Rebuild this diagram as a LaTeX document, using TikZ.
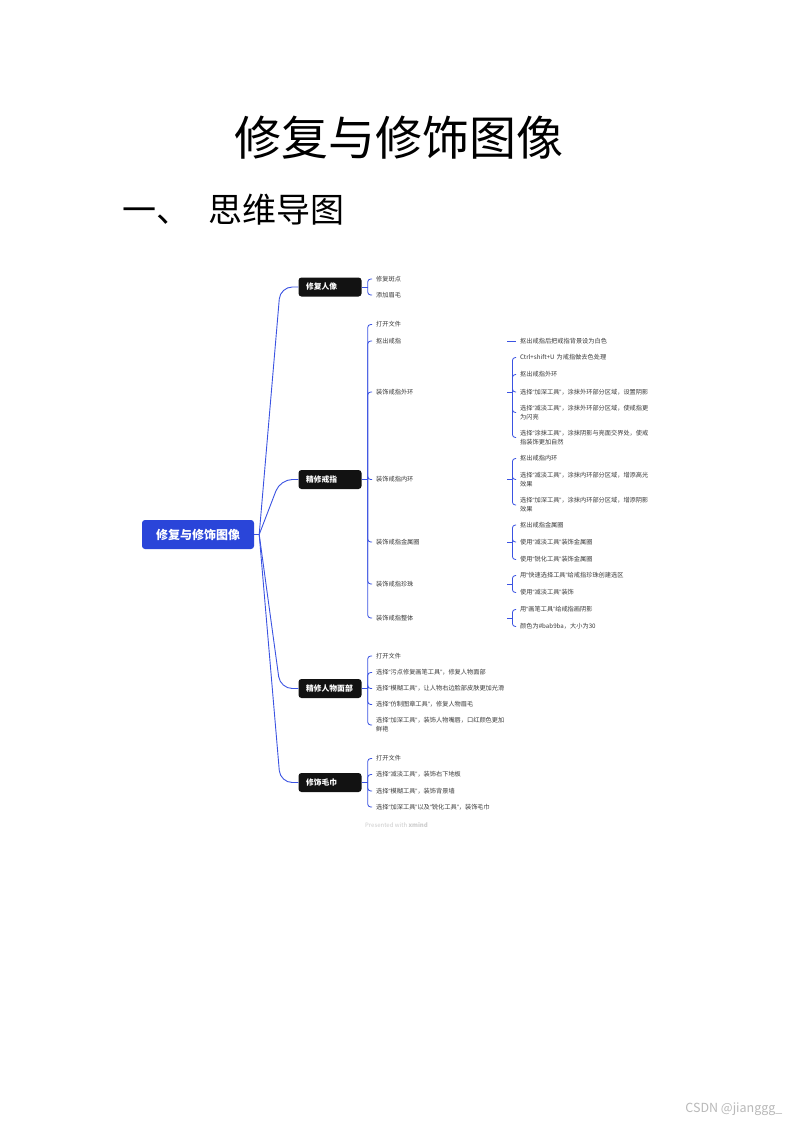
\documentclass[tikz,border=0pt]{standalone}
\usepackage{fontspec}
\setmainfont{Noto Sans CJK SC}
\newfontfamily\quotefont{Liberation Sans}
\newcommand{\ql}{{\quotefont “}}
\newcommand{\qr}{{\quotefont ”}}
\usetikzlibrary{calc}
\definecolor{rootbg}{HTML}{2A45D9}
\definecolor{topicbg}{HTML}{121212}
\definecolor{branch}{HTML}{3B53E2}
\definecolor{leaftext}{HTML}{3A3A3A}

\begin{document}
\begin{tikzpicture}[
  x=1pt, y=-1pt,
  trunk/.style={draw=branch, line width=0.9pt, rounded corners=12pt},
  br/.style={draw=branch, line width=0.8pt, rounded corners=3pt},
  rootbox/.style={rectangle, fill=rootbg, rounded corners=3pt, text=white, font=\fontsize{12}{14}\selectfont\bfseries, minimum width=112pt, minimum height=29pt},
  topic/.style={rectangle, fill=topicbg, rounded corners=3pt, text=white, font=\fontsize{7.8}{9}\selectfont\bfseries, text width=48pt, align=left, inner xsep=7.5pt, minimum height=19pt},
  sub/.style={anchor=west, text=leaftext, font=\fontsize{6.2}{9}\selectfont, text width=127pt, align=left, inner xsep=4pt, inner ysep=1pt},
  leaf/.style={sub, text width=135pt}
]
  \path[use as bounding box, fill=white] (0,0) rectangle (793,1122);

  % Title
  \node[font=\fontsize{47}{50}\selectfont] (title) at (399, 138) {修复与修饰图像};
  \node[font=\fontsize{34}{38}\selectfont, anchor=west] (heading) at (119, 210) {一、\hspace{18pt}思维导图};

  % Root and main topics
  \node[rootbox] (root) at (198, 534.5) {修复与修饰图像};
  \node[topic] (repair) at (330, 287) {修复人像};
  \node[topic] (ring) at (330, 479.5) {精修戒指};
  \node[topic] (face) at (330, 688.5) {精修人物面部};
  \node[topic] (towel) at (330, 782.5) {修饰毛巾};

  % Trunk connectors
  \coordinate (hub) at ($(root.east)+(5,0)$);
  \draw[trunk] (root.east) -- (hub);
  \foreach \t in {repair,ring,face,towel}
    \draw[trunk] (hub) -- ($(\t.west)+(-18,0)$) -- (\t.west);

  % ==================== 修复人像 ====================
  \node[sub] (a1) at (372, 279) {修复斑点};
  \node[sub] (a2) at (372, 295) {添加眉毛};
  \coordinate (bA) at ($(repair.east)+(6,0)$);
  \draw[br] (repair.east) -- (bA);
  \foreach \c in {a1,a2} \draw[br] (bA) |- (\c.west);

  % ==================== 精修戒指 ====================
  \node[sub] (r1) at (372, 324.5) {打开文件};
  \node[sub] (r2) at (372, 341) {抠出戒指};
  \node[sub] (r3) at (372, 392) {装饰戒指外环};
  \node[sub] (r4) at (372, 479.5) {装饰戒指内环};
  \node[sub] (r5) at (372, 542) {装饰戒指金属圈};
  \node[sub] (r6) at (372, 584) {装饰戒指珍珠};
  \node[sub] (r7) at (372, 618) {装饰戒指整体};
  \coordinate (bR) at ($(ring.east)+(6,0)$);
  \draw[br] (ring.east) -- (bR);
  \foreach \c in {r1,r2,r3,r4,r5,r6,r7} \draw[br] (bR) |- (\c.west);

  % 抠出戒指
  \node[leaf] (r2a) at (516, 341) {抠出戒指后把戒指背景设为白色};
  \draw[br] (r2.east) -- (r2a.west);

  % 装饰戒指外环
  \node[leaf] (r3a) at (516, 357.5) {Ctrl+shift+U 为戒指做去色处理};
  \node[leaf] (r3b) at (516, 374.5) {抠出戒指外环};
  \node[leaf] (r3c) at (516, 392) {选择\ql 加深工具\qr，涂抹外环部分区域，设置阴影};
  \node[leaf] (r3d) at (516, 412.5) {选择\ql 减淡工具\qr，涂抹外环部分区域，使戒指更\\为闪亮};
  \node[leaf] (r3e) at (516, 437.5) {选择\ql 涂抹工具\qr，涂抹阴影与亮面交界处，使戒\\指装饰更加自然};
  \coordinate (b3) at ($(r3.east)+(5,0)$);
  \draw[br] (r3.east) -- (b3);
  \foreach \c in {r3a,r3b,r3c,r3d,r3e} \draw[br] (b3) |- (\c.west);

  % 装饰戒指内环
  \node[leaf] (r4a) at (516, 458.5) {抠出戒指内环};
  \node[leaf] (r4b) at (516, 479.5) {选择\ql 减淡工具\qr，涂抹内环部分区域，增添高光\\效果};
  \node[leaf] (r4c) at (516, 505) {选择\ql 加深工具\qr，涂抹内环部分区域，增添阴影\\效果};
  \coordinate (b4) at ($(r4.east)+(5,0)$);
  \draw[br] (r4.east) -- (b4);
  \foreach \c in {r4a,r4b,r4c} \draw[br] (b4) |- (\c.west);

  % 装饰戒指金属圈
  \node[leaf] (r5a) at (516, 525) {抠出戒指金属圈};
  \node[leaf] (r5b) at (516, 542) {使用\ql 减淡工具\qr 装饰金属圈};
  \node[leaf] (r5c) at (516, 559.5) {使用\ql 锐化工具\qr 装饰金属圈};
  \coordinate (b5) at ($(r5.east)+(5,0)$);
  \draw[br] (r5.east) -- (b5);
  \foreach \c in {r5a,r5b,r5c} \draw[br] (b5) |- (\c.west);

  % 装饰戒指珍珠
  \node[leaf] (r6a) at (516, 575.5) {用\ql 快速选择工具\qr 给戒指珍珠创建选区};
  \node[leaf] (r6b) at (516, 592.5) {使用\ql 减淡工具\qr 装饰};
  \coordinate (b6) at ($(r6.east)+(5,0)$);
  \draw[br] (r6.east) -- (b6);
  \foreach \c in {r6a,r6b} \draw[br] (b6) |- (\c.west);

  % 装饰戒指整体
  \node[leaf] (r7a) at (516, 609.5) {用\ql 画笔工具\qr 给戒指画阴影};
  \node[leaf] (r7b) at (516, 626.5) {颜色为\#bab9ba，大小为30};
  \coordinate (b7) at ($(r7.east)+(5,0)$);
  \draw[br] (r7.east) -- (b7);
  \foreach \c in {r7a,r7b} \draw[br] (b7) |- (\c.west);

  % ==================== 精修人物面部 ====================
  \node[sub] (f1) at (372, 656) {打开文件};
  \node[sub] (f2) at (372, 672.5) {选择\ql 污点修复画笔工具\qr，修复人物面部};
  \node[sub] (f3) at (372, 688.5) {选择\ql 模糊工具\qr，让人物右边脸部皮肤更加光滑};
  \node[sub] (f4) at (372, 704.5) {选择\ql 仿制图章工具\qr，修复人物眉毛};
  \node[sub] (f5) at (372, 725) {选择\ql 加深工具\qr，装饰人物嘴唇，口红颜色更加\\鲜艳};
  \coordinate (bF) at ($(face.east)+(6,0)$);
  \draw[br] (face.east) -- (bF);
  \foreach \c in {f1,f2,f3,f4,f5} \draw[br] (bF) |- (\c.west);

  % ==================== 修饰毛巾 ====================
  \node[sub] (t1) at (372, 758.5) {打开文件};
  \node[sub] (t2) at (372, 774.5) {选择\ql 减淡工具\qr，装饰右下地板};
  \node[sub] (t3) at (372, 791) {选择\ql 模糊工具\qr，装饰背景墙};
  \node[sub] (t4) at (372, 807) {选择\ql 加深工具\qr 以及\ql 锐化工具\qr，装饰毛巾};
  \coordinate (bT) at ($(towel.east)+(6,0)$);
  \draw[br] (towel.east) -- (bT);
  \foreach \c in {t1,t2,t3,t4} \draw[br] (bT) |- (\c.west);

  % Footer marks
  \node[font=\fontsize{6}{7}\selectfont, text=gray!40] (xmind) at (396.5, 825) {Presented with \textbf{xmind}};
  \node[font=\fontsize{12.5}{14}\selectfont, text=gray!55, anchor=east] (csdn) at (786, 1109) {CSDN @jianggg\_};

\end{tikzpicture}
\end{document}
